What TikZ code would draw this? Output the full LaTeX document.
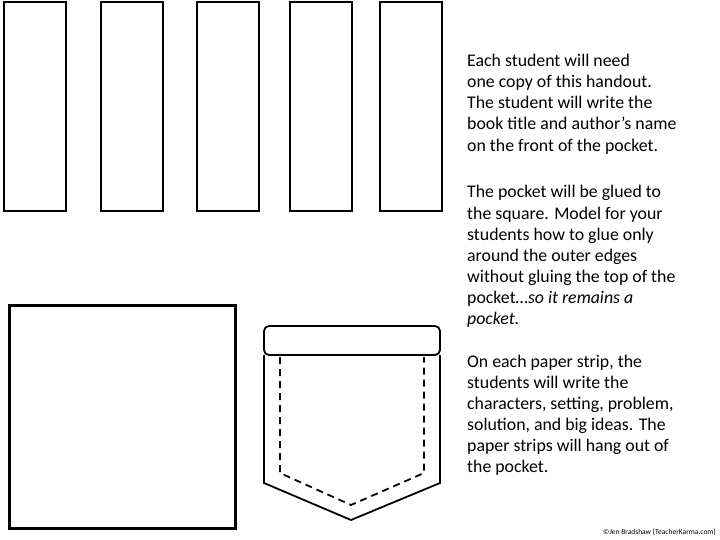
\documentclass[tikz,border=0pt]{standalone}
\usepackage{fontspec}
\setmainfont{Carlito}
\begin{document}
\begin{tikzpicture}[x=1pt,y=-1pt,
  shp/.style={draw=black,line width=2.4pt},
  txt/.style={anchor=base west,inner sep=0pt,font=\fontsize{17.8}{21}\selectfont}]
\useasboundingbox (0,0) rectangle (720,540);
\foreach \x/\n in {4/a,101/b,197/c,290/d,380/e}{
  \draw[shp] (\x,2) rectangle ++(62,209);}
\draw[shp,line width=3pt] (9,305) rectangle (235,528);
\draw[shp,line width=1.8pt] (264,355) -- (264,483) -- (351,520) -- (440,483) -- (440,355);
\draw[shp,line width=1.8pt,rounded corners=5pt] (264,326) rectangle (440,355);
\draw[line width=1.8pt,dash pattern=on 7pt off 5pt] (280,357) -- (280,473) -- (351,505) -- (424,473) -- (424,357);
\foreach \t [count=\i from 0] in {Each student will need,one copy of this handout.,The student will write the,book title and author’s name,on the front of the pocket.}
  \node[txt] (p\i) at (467,66.7+21.1*\i) {\t};
\foreach \t [count=\i from 0] in {The pocket will be glued to,the square.  Model for your,students how to glue only,around the outer edges,without gluing the top of the,pocket…\textit{so it remains a},\textit{pocket.}}
  \node[txt] (q\i) at (467,198+21.1*\i) {\t};
\foreach \t [count=\i from 0] in {On each paper strip{,} the,students will write  the,{characters, setting, problem,},solution{,} and big ideas.  The,paper strips will hang out of,the pocket.}
  \node[txt] (r\i) at (467,367+21.1*\i) {\t};
\node[anchor=base east,inner sep=0pt,font=\fontsize{7.5}{9}\selectfont] (c) at (716,534) {©Jen Bradshaw \{TeacherKarma.com\}};
\end{tikzpicture}
\end{document}
